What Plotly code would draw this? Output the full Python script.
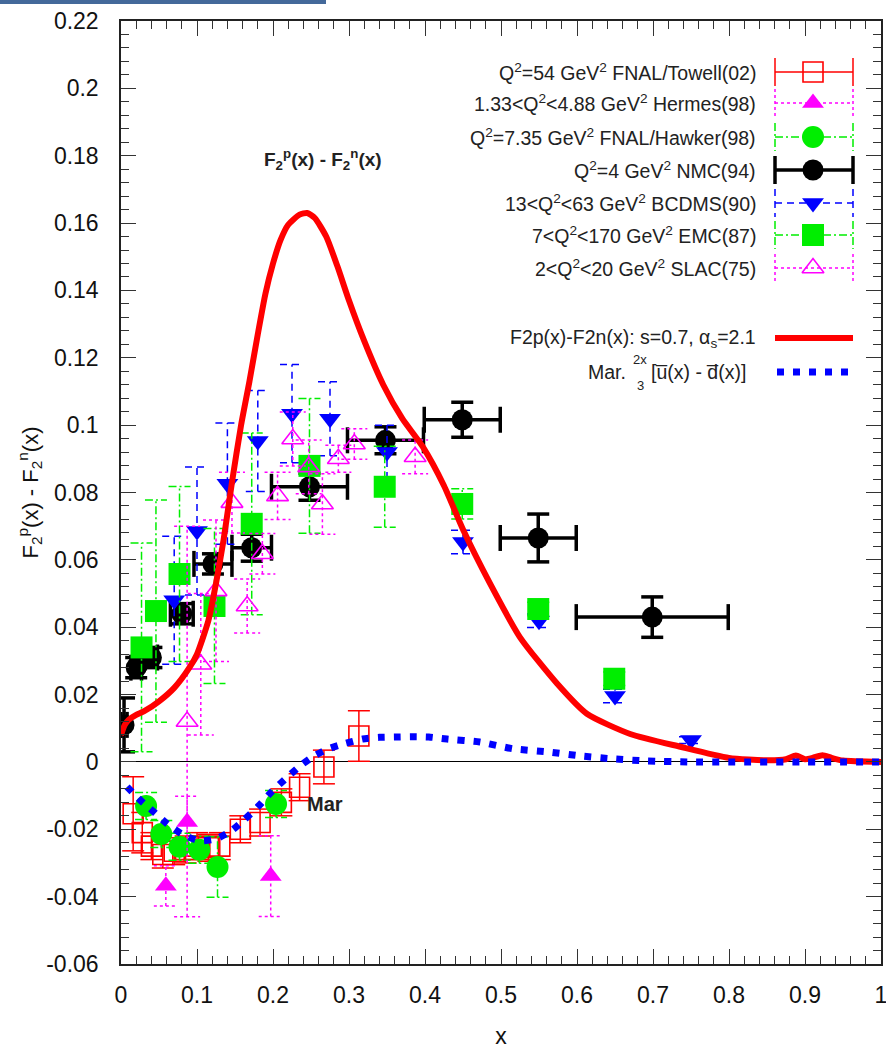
import plotly.graph_objects as go

# ---------------- data ----------------
# FNAL/Towell(02)
towell_x = [0.016, 0.028, 0.040, 0.055, 0.070, 0.085, 0.100, 0.115, 0.130, 0.157, 0.183, 0.211, 0.235, 0.267, 0.313]
towell_y = [-0.0154, -0.021, -0.025, -0.0275, -0.0265, -0.026, -0.025, -0.0255, -0.025, -0.020, -0.018, -0.012, -0.0075, -0.0015, 0.0077]
towell_e = [0.011, 0.006, 0.004, 0.004, 0.004, 0.004, 0.004, 0.004, 0.004, 0.004, 0.004, 0.004, 0.004, 0.005, 0.0075]

# Hermes(98)
hermes_x = [0.059, 0.087, 0.197]
hermes_y = [-0.0368, -0.0178, -0.0339]
hermes_e = [0.006, 0.0076, 0.012]

# FNAL/Hawker(98)
hawker_x = [0.033, 0.053, 0.077, 0.103, 0.127, 0.204]
hawker_y = [-0.0131, -0.0214, -0.0252, -0.0261, -0.0312, -0.0125]
hawker_e = [0.004, 0.004, 0.004, 0.004, 0.009, 0.004]

# NMC(94)
nmc_x = [0.004, 0.02, 0.04, 0.08, 0.121, 0.172, 0.248, 0.348, 0.449, 0.549, 0.699]
nmc_y = [0.011, 0.028, 0.031, 0.044, 0.0588, 0.0636, 0.0817, 0.0955, 0.1016, 0.0665, 0.043]
nmc_e = [0.008, 0.003, 0.003, 0.003, 0.003, 0.004, 0.004, 0.004, 0.0052, 0.0071, 0.006]
nmc_xe = [0.004, 0.007, 0.008, 0.015, 0.025, 0.026, 0.05, 0.05, 0.05, 0.05, 0.1]

# BCDMS(90)
bcdms_x = [0.07, 0.10, 0.14, 0.18, 0.225, 0.275, 0.35, 0.45, 0.55, 0.65, 0.75]
bcdms_y = [0.048, 0.0686, 0.0826, 0.0953, 0.1034, 0.1019, 0.092, 0.0653, 0.0419, 0.0196, 0.0065]
bcdms_e = [0.019, 0.019, 0.018, 0.015, 0.0146, 0.011, 0.008, 0.0035, 0.002, 0.002, 0.001]

# EMC(87)
emc_x = [0.027, 0.046, 0.077, 0.123, 0.172, 0.248, 0.347, 0.449, 0.549, 0.649]
emc_y = [0.034, 0.0448, 0.0558, 0.0463, 0.0707, 0.0879, 0.0817, 0.0766, 0.0454, 0.0247]
emc_e = [0.031, 0.033, 0.026, 0.023, 0.027, 0.020, 0.012, 0.0045, 0.002, 0.002]

# SLAC(75)
slac_x = [0.087, 0.105, 0.125, 0.146, 0.166, 0.186, 0.206, 0.226, 0.247, 0.265, 0.286, 0.307, 0.387]
slac_y = [0.012, 0.029, 0.0508, 0.077, 0.0463, 0.0618, 0.079, 0.0959, 0.0876, 0.0766, 0.090, 0.0944, 0.0906]
slac_e = [0.058, 0.021, 0.021, 0.009, 0.008, 0.006, 0.007, 0.008, 0.008, 0.009, 0.004, 0.0045, 0.005]

# F2p(x)-F2n(x) model curve
f2_x = [0, 0.005, 0.01, 0.02, 0.03, 0.05, 0.07, 0.09, 0.10, 0.115, 0.125, 0.135, 0.146, 0.158, 0.169,
        0.18, 0.19, 0.20, 0.21, 0.22, 0.235, 0.245, 0.255, 0.27, 0.285, 0.30, 0.32, 0.345, 0.37, 0.397,
        0.425, 0.45, 0.4855, 0.525, 0.574, 0.613, 0.67, 0.736, 0.80, 0.85, 0.875, 0.888, 0.90, 0.91,
        0.923, 0.935, 0.95, 1.0]
f2_y = [0.008, 0.011, 0.0125, 0.014, 0.015, 0.018, 0.022, 0.028, 0.032, 0.042, 0.053, 0.066, 0.083, 0.100, 0.113,
        0.127, 0.139, 0.148, 0.155, 0.1595, 0.1625, 0.163, 0.1615, 0.156, 0.147, 0.137, 0.125, 0.112, 0.102, 0.0936,
        0.082, 0.069, 0.053, 0.037, 0.0232, 0.0143, 0.0083, 0.0045, 0.0012, 0.0005, 0.0008, 0.0019, 0.0008, 0.0012,
        0.002, 0.0012, 0.0004, 0.0]

# Mar: 2x/3 [ubar(x) - dbar(x)]
mar_x = [0.008, 0.026, 0.044, 0.061, 0.080, 0.103, 0.125, 0.145, 0.162, 0.181, 0.198, 0.215, 0.234, 0.252,
         0.273, 0.292, 0.318, 0.34, 0.36, 0.384, 0.405, 0.429, 0.472, 0.516, 0.561, 0.604, 0.648, 0.69, 0.75,
         0.8, 0.9, 1.0]
mar_y = [-0.0074, -0.0115, -0.015, -0.0184, -0.0214, -0.0234, -0.0228, -0.0205, -0.0172, -0.0131, -0.0089,
         -0.0053, -0.0015, 0.0015, 0.0039, 0.0053, 0.0068, 0.0073, 0.0074, 0.0075, 0.0074, 0.0068, 0.0059, 0.0039,
         0.003, 0.0018, 0.0009, 0.0003, 0.0, 0.0, 0.0, 0.0]

y_tick_vals = [-0.06, -0.04, -0.02, 0, 0.02, 0.04, 0.06, 0.08, 0.1, 0.12, 0.14, 0.16, 0.18, 0.2, 0.22]
y_tick_text = ["-0.06", "-0.04", "-0.02", "0", "0.02", "0.04", "0.06", "0.08", "0.1", "0.12", "0.14",
               "0.16", "0.18", "0.2", "0.22"]

legend_labels = [
    "Q<sup>2</sup>=54 GeV<sup>2</sup> FNAL/Towell(02)",
    "1.33&lt;Q<sup>2</sup>&lt;4.88 GeV<sup>2</sup> Hermes(98)",
    "Q<sup>2</sup>=7.35 GeV<sup>2</sup> FNAL/Hawker(98)",
    "Q<sup>2</sup>=4 GeV<sup>2</sup> NMC(94)",
    "13&lt;Q<sup>2</sup>&lt;63 GeV<sup>2</sup> BCDMS(90)",
    "7&lt;Q<sup>2</sup>&lt;170 GeV<sup>2</sup> EMC(87)",
    "2&lt;Q<sup>2</sup>&lt;20 GeV<sup>2</sup> SLAC(75)",
]

# ---------------- layout constants ----------------
W, H = 886, 1049
ML, MR, MT, MB = 121, 5, 21, 85
PX_X = 1.0 / (W - ML - MR)          # data units per pixel (x range is 1)
PX_Y = 0.28 / (H - MT - MB)         # data units per pixel (y range is 0.28)
FONT = "Liberation Sans, Arial, sans-serif"
LEG_FS = 19.5

RED, MAG, GRN, BLK, BLU = "#ff0000", "#ff00ff", "#00ee00", "#000000", "#0000ff"


def err_lines(xs, ys, es, cap_px, xes=None, xcap_px=None):
    X, Y = [], []
    c = cap_px * PX_X
    for i, (x, y, e) in enumerate(zip(xs, ys, es)):
        X += [x, x, None, x - c, x + c, None, x - c, x + c, None]
        Y += [y - e, y + e, None, y - e, y - e, None, y + e, y + e, None]
        if xes is not None:
            xe = xes[i]
            cy = xcap_px * PX_Y
            X += [x - xe, x + xe, None, x - xe, x - xe, None, x + xe, x + xe, None]
            Y += [y, y, None, y - cy, y + cy, None, y - cy, y + cy, None]
    return X, Y


fig = go.Figure()

series = [
    # x, y, e, color, dash, lw, cap, symbol, size, xerr
    (towell_x, towell_y, towell_e, RED, "solid", 1.5, 11, "square-open", 20, None),
    (hermes_x, hermes_y, hermes_e, MAG, "3px,3px", 1.5, 12, "triangle-up", 19, None),
    (hawker_x, hawker_y, hawker_e, GRN, "8px,3px,2px,3px", 1.5, 11, "circle", 22, None),
    (nmc_x, nmc_y, nmc_e, BLK, "solid", 3.5, 11, "circle", 21, nmc_xe),
    (bcdms_x, bcdms_y, bcdms_e, BLU, "7px,5px", 1.5, 12, "triangle-down", 19, None),
    (emc_x, emc_y, emc_e, GRN, "8px,3px,2px,3px", 1.5, 11, "square", 22, None),
    (slac_x, slac_y, slac_e, MAG, "3px,3px", 1.5, 13, "triangle-up-open", 19, None),
]

for (xs, ys, es, col, dash, lw, cap, sym, size, xes) in series:
    ex, ey = err_lines(xs, ys, es, cap, xes, 13)
    fig.add_trace(go.Scatter(x=ex, y=ey, mode="lines", line=dict(color=col, width=lw, dash=dash),
                             showlegend=False, hoverinfo="skip"))
    mline = dict(color=col, width=1.6) if sym.endswith("open") else dict(width=0)
    fig.add_trace(go.Scatter(x=xs, y=ys, mode="markers",
                             marker=dict(symbol=sym, size=size, color=col, line=mline),
                             showlegend=False))

fig.add_trace(go.Scatter(x=f2_x, y=f2_y, mode="lines", line=dict(color=RED, width=6, shape="spline", smoothing=0.6),
                         showlegend=False))
fig.add_trace(go.Scatter(x=mar_x, y=mar_y, mode="lines",
                         line=dict(color=BLU, width=7, dash="7px,9px", shape="spline", smoothing=0.6),
                         showlegend=False))

# ---------------- hand-built legend (pixel coordinates on overlay axes) ----------------
leg_rows = [72, 103, 137, 170, 203, 235, 268]
LX0, LX1, LXM, LTX = 775, 853, 813, 758
for (xs, ys, es, col, dash, lw, cap, sym, size, xes), yy, lab in zip(series, leg_rows, legend_labels):
    fig.add_trace(go.Scatter(x=[LX0, LX1, None, LX0, LX0, None, LX1, LX1],
                             y=[yy, yy, None, yy - 14, yy + 14, None, yy - 14, yy + 14],
                             mode="lines", line=dict(color=col, width=lw, dash=dash),
                             xaxis="x2", yaxis="y2", showlegend=False, hoverinfo="skip"))
    mline = dict(color=col, width=1.6) if sym.endswith("open") else dict(width=0)
    fig.add_trace(go.Scatter(x=[LXM], y=[yy], mode="markers",
                             marker=dict(symbol=sym, size=size, color=col, line=mline),
                             xaxis="x2", yaxis="y2", showlegend=False, hoverinfo="skip"))
    fig.add_annotation(x=LTX, y=yy, xref="x2", yref="y2", text=lab, showarrow=False, xanchor="right",
                       yanchor="middle", font=dict(family=FONT, size=LEG_FS, color="#222222"))

fig.add_trace(go.Scatter(x=[LX0, LX1], y=[338, 338], mode="lines", line=dict(color=RED, width=6),
                         xaxis="x2", yaxis="y2", showlegend=False, hoverinfo="skip"))
fig.add_trace(go.Scatter(x=[LX0 + 2, LX1], y=[372, 372], mode="lines", line=dict(color=BLU, width=7, dash="7px,9px"),
                         xaxis="x2", yaxis="y2", showlegend=False, hoverinfo="skip"))
fig.add_annotation(x=LTX, y=338, xref="x2", yref="y2", showarrow=False, xanchor="right", yanchor="middle",
                   text="F2p(x)-F2n(x): s=0.7, α<sub>s</sub>=2.1", font=dict(family=FONT, size=LEG_FS, color="#222222"))
fig.add_annotation(x=628, y=372, xref="x2", yref="y2", showarrow=False, xanchor="right", yanchor="middle",
                   text="Mar.", font=dict(family=FONT, size=LEG_FS, color="#222222"))
fig.add_annotation(x=640, y=359, xref="x2", yref="y2", showarrow=False, xanchor="center", yanchor="middle",
                   text="2x", font=dict(family=FONT, size=13, color="#222222"))
fig.add_annotation(x=640, y=385, xref="x2", yref="y2", showarrow=False, xanchor="center", yanchor="middle",
                   text="3", font=dict(family=FONT, size=13, color="#222222"))
fig.add_annotation(x=649, y=372, xref="x2", yref="y2", showarrow=False, xanchor="left", yanchor="middle",
                   text="[u\u0305(x) - d\u0305(x)]", font=dict(family=FONT, size=LEG_FS, color="#222222"))

# in-plot labels
fig.add_annotation(x=0.266, y=0.179, xref="x", yref="y", showarrow=False,
                   text="<b>F<sub>2</sub><sup>p</sup>(x) - F<sub>2</sub><sup>n</sup>(x)</b>",
                   font=dict(family=FONT, size=19, color="#222222"))
fig.add_annotation(x=0.268, y=-0.0125, xref="x", yref="y", showarrow=False, text="<b>Mar</b>",
                   font=dict(family=FONT, size=20, color="#222222"))

# top decorative stripe
pw, ph = W - ML - MR, H - MT - MB
fig.add_shape(type="rect", xref="paper", yref="paper", x0=-ML / pw, x1=(326 - ML) / pw,
              y0=1 + (MT - 4) / ph, y1=1 + MT / ph, line=dict(width=0), fillcolor="#44699a")

fig.update_layout(
    width=W, height=H, margin=dict(l=ML, r=MR, t=MT, b=MB, autoexpand=False),
    paper_bgcolor="white", plot_bgcolor="white", showlegend=False,
    font=dict(family=FONT, color="#111111"),
    xaxis=dict(range=[0, 1], dtick=0.1, tick0=0, ticks="inside", ticklen=15, tickwidth=1.2, tickcolor="#333",
               showline=True, linecolor="#222", linewidth=1.5, mirror="ticks", showgrid=False, zeroline=False,
               minor=dict(dtick=0.02, ticks="inside", ticklen=8, tickcolor="#333", tickwidth=1.2),
               tickfont=dict(size=23, color="#111"), ticklabelstandoff=10, automargin=False,
               ticklabeloverflow="allow",
               title=dict(text="x", font=dict(size=23, color="#111"), standoff=22)),
    yaxis=dict(range=[-0.06, 0.22], tickvals=y_tick_vals, ticktext=y_tick_text, ticks="inside", ticklen=15,
               tickwidth=1.2, tickcolor="#333",
               showline=True, linecolor="#222", linewidth=1.5, mirror="ticks", showgrid=False,
               zeroline=True, zerolinecolor="#000", zerolinewidth=1.2,
               minor=dict(dtick=0.004, tick0=0, ticks="inside", ticklen=8, tickcolor="#333", tickwidth=1.2),
               tickfont=dict(size=23, color="#111"), ticklabelstandoff=16, automargin=False,
               title=dict(text="F<sub>2</sub><sup>p</sup>(x) - F<sub>2</sub><sup>n</sup>(x)",
                          font=dict(size=22, color="#111"), standoff=2)),
    xaxis2=dict(overlaying="x", range=[ML, W - MR], visible=False, anchor="y2", fixedrange=True),
    yaxis2=dict(overlaying="y", range=[H - MB, MT], visible=False, anchor="x2", fixedrange=True),
)

# remove the browser's default 8px page margin so the figure sits at the window's corner
fig.write_html("out.html", config={"displayModeBar": False},
               post_script="document.body.style.margin='0';")
